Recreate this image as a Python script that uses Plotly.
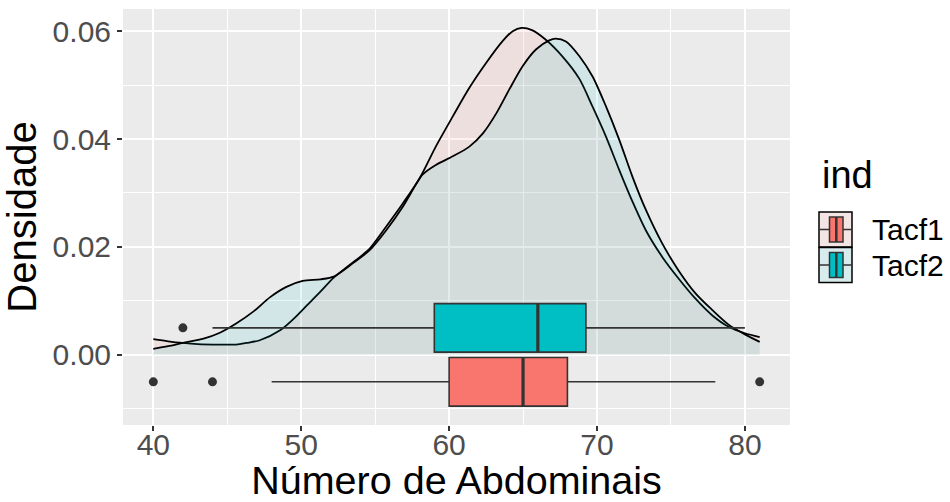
import plotly.graph_objects as go

# ---------------- data ----------------
groups = ["Tacf1", "Tacf2"]
colors = ["#F8766D", "#00BFC4"]
fill_rgba = ["rgba(248,118,109,0.1)", "rgba(0,191,196,0.1)"]

# density curves
tacf1_x = [40.0, 41.0, 42.0, 43.0, 44.5, 45.6, 46.3, 47.2, 48.6, 49.5, 50.4, 51.3, 52.2,
           53.1, 54.0, 54.63, 55.75, 56.88, 58.0, 59.1, 60.25, 61.37, 62.5, 63.6, 64.3,
           64.9, 65.6, 66.5, 67.7, 68.8, 69.7, 70.6, 71.5, 72.4, 73.3, 74.4, 75.5, 76.66,
           77.8, 78.9, 80.0, 81.0]
tacf1_d = [0.0029, 0.0025, 0.0022, 0.0020, 0.0019, 0.0019, 0.0022, 0.0027, 0.0046, 0.0067,
           0.0092, 0.0117, 0.0143, 0.0163, 0.0182, 0.0197, 0.0238, 0.0281, 0.0327, 0.0386,
           0.0442, 0.0495, 0.0541, 0.0581, 0.0600, 0.0606, 0.0602, 0.0585, 0.0552, 0.0512,
           0.0460, 0.0405, 0.0343, 0.0284, 0.0231, 0.0182, 0.0142, 0.0104, 0.0073, 0.0052,
           0.0040, 0.0033]

tacf2_x = [40.0, 41.0, 42.0, 43.4, 44.5, 45.6, 46.8, 47.9, 49.0, 50.1, 51.3, 52.2, 53.5,
           54.63, 55.75, 56.88, 57.8, 58.2, 59.1, 60.25, 61.37, 62.3, 63.2, 64.07, 64.97,
           65.87, 66.77, 67.2, 67.9, 68.8, 69.7, 70.6, 71.5, 72.4, 73.3, 74.4, 75.5, 76.66,
           77.8, 78.9, 80.0, 81.0]
tacf2_d = [0.0011, 0.0016, 0.0022, 0.0030, 0.0041, 0.0058, 0.0081, 0.0107, 0.0126, 0.0137,
           0.0140, 0.0145, 0.0170, 0.0194, 0.0231, 0.0275, 0.0318, 0.0334, 0.0352, 0.0368,
           0.0386, 0.0411, 0.0448, 0.0492, 0.0535, 0.0566, 0.0583, 0.0586, 0.0581, 0.0554,
           0.0516, 0.0461, 0.0399, 0.0330, 0.0269, 0.0207, 0.0157, 0.0114, 0.0083, 0.0056,
           0.0038, 0.0024]

# boxplot statistics
box_pos = [-0.005, 0.005]
q1 = [60, 59]
median = [65, 66]
q3 = [68, 69.25]
lower_fence = [48, 44]
upper_fence = [78, 80]
box_height = 0.009
outliers_x = [[40, 44, 81], [42]]

x_title = "Número de Abdominais"
y_title = "Densidade"
legend_title = "ind"

# ---------------- layout helpers ----------------
W, H = 950, 502
L, R, T, B = 123, 160, 9, 77
PW, PH = W - L - R, H - T - B


def px(x):
    return (x - L) / PW


def py(y):
    return 1 - (y - T) / PH


FONT = "Liberation Sans, Arial, sans-serif"
LINE = "#333333"

fig = go.Figure()

dens_x = [tacf1_x, tacf2_x]
dens_d = [tacf1_d, tacf2_d]
for i, g in enumerate(groups):
    fig.add_trace(go.Scatter(
        x=dens_x[i], y=dens_d[i], mode="lines", fill="tozeroy",
        fillcolor=fill_rgba[i], line=dict(color="black", width=1.8, shape="spline", smoothing=0.8),
        name=g, showlegend=False, hoverinfo="skip"))

# boxes on an overlaying y axis so they are drawn above the density fills
for i, g in enumerate(groups):
    fig.add_trace(go.Box(
        orientation="h", y=[box_pos[i]], q1=[q1[i]], median=[median[i]], q3=[q3[i]],
        lowerfence=[lower_fence[i]], upperfence=[upper_fence[i]], width=box_height,
        fillcolor=colors[i], line=dict(color=LINE, width=1.6), whiskerwidth=0,
        boxpoints=False, showlegend=False, name=g, hoverinfo="skip", yaxis="y2"))
    fig.add_trace(go.Scatter(
        x=[median[i], median[i]],
        y=[box_pos[i] - box_height / 2, box_pos[i] + box_height / 2],
        mode="lines", line=dict(color=LINE, width=3.2), showlegend=False, hoverinfo="skip",
        yaxis="y2"))
    fig.add_trace(go.Scatter(
        x=outliers_x[i], y=[box_pos[i]] * len(outliers_x[i]), mode="markers",
        marker=dict(color=LINE, size=9), showlegend=False, hoverinfo="skip", yaxis="y2"))

# axis ranges (ggplot-like 5% expansion)
all_x = tacf1_x + tacf2_x + sum(outliers_x, [])
xmin, xmax = min(all_x), max(all_x)
xpad = 0.05 * (xmax - xmin)
ymin = min(p - box_height / 2 for p in box_pos)
ymax = max(tacf1_d + tacf2_d)
ypad = 0.05 * (ymax - ymin)
yrange = [ymin - ypad, ymax + ypad]

axis_common = dict(
    showgrid=True, gridcolor="white", gridwidth=2, zeroline=False, showline=False,
    ticks="outside", ticklen=5, tickwidth=2, tickcolor=LINE, automargin=False,
    tickfont=dict(family=FONT, size=30, color="#4D4D4D"),
)

fig.update_layout(
    width=W, height=H, margin=dict(l=L, r=R, t=T, b=B),
    paper_bgcolor="white", plot_bgcolor="#EBEBEB", boxmode="overlay",
    showlegend=False,
    xaxis=dict(range=[xmin - xpad, xmax + xpad], tick0=40, dtick=10, ticklabelstandoff=-12,
               minor=dict(dtick=5, showgrid=True, gridcolor="white", gridwidth=1),
               title=dict(text=x_title, font=dict(family=FONT, size=39.5, color="black"), standoff=4),
               **axis_common),
    yaxis=dict(range=yrange, tick0=0, dtick=0.02, tickformat=".2f",
               minor=dict(dtick=0.01, showgrid=True, gridcolor="white", gridwidth=1),
               title=dict(text=y_title, font=dict(family=FONT, size=40, color="black"), standoff=8),
               **axis_common),
    yaxis2=dict(range=yrange, overlaying="y", showgrid=False, zeroline=False,
                showticklabels=False, ticks="", automargin=False),
)

# ---------------- custom ggplot-style legend ----------------
shapes = []
annotations = [dict(x=px(820), y=py(175), xref="paper", yref="paper", text=legend_title,
                    showarrow=False, xanchor="left", yanchor="middle",
                    font=dict(family=FONT, size=38, color="black"))]
for i, g in enumerate(groups):
    top = 212 + i * 35.5
    bot = top + 35
    mid = (top + bot) / 2
    shapes.append(dict(type="rect", xref="paper", yref="paper", x0=px(819), x1=px(852),
                       y0=py(bot), y1=py(top), fillcolor="#F2F2F2", line=dict(width=0)))
    shapes.append(dict(type="rect", xref="paper", yref="paper", x0=px(819), x1=px(852),
                       y0=py(bot), y1=py(top), fillcolor=fill_rgba[i],
                       line=dict(color="black", width=1.5)))
    shapes.append(dict(type="line", xref="paper", yref="paper", x0=px(819), x1=px(852),
                       y0=py(mid), y1=py(mid), line=dict(color=LINE, width=1.5)))
    shapes.append(dict(type="rect", xref="paper", yref="paper", x0=px(829.5), x1=px(843),
                       y0=py(bot - 5), y1=py(top + 5), fillcolor=colors[i],
                       line=dict(color=LINE, width=1.5)))
    shapes.append(dict(type="line", xref="paper", yref="paper", x0=px(836.3), x1=px(836.3),
                       y0=py(bot - 5), y1=py(top + 5), line=dict(color=LINE, width=2.5)))
    annotations.append(dict(x=px(870), y=py(mid), xref="paper", yref="paper", text=g,
                            showarrow=False, xanchor="left", yanchor="middle",
                            font=dict(family=FONT, size=30, color="black")))

fig.update_layout(shapes=shapes, annotations=annotations)

fig.write_html("out.html")
